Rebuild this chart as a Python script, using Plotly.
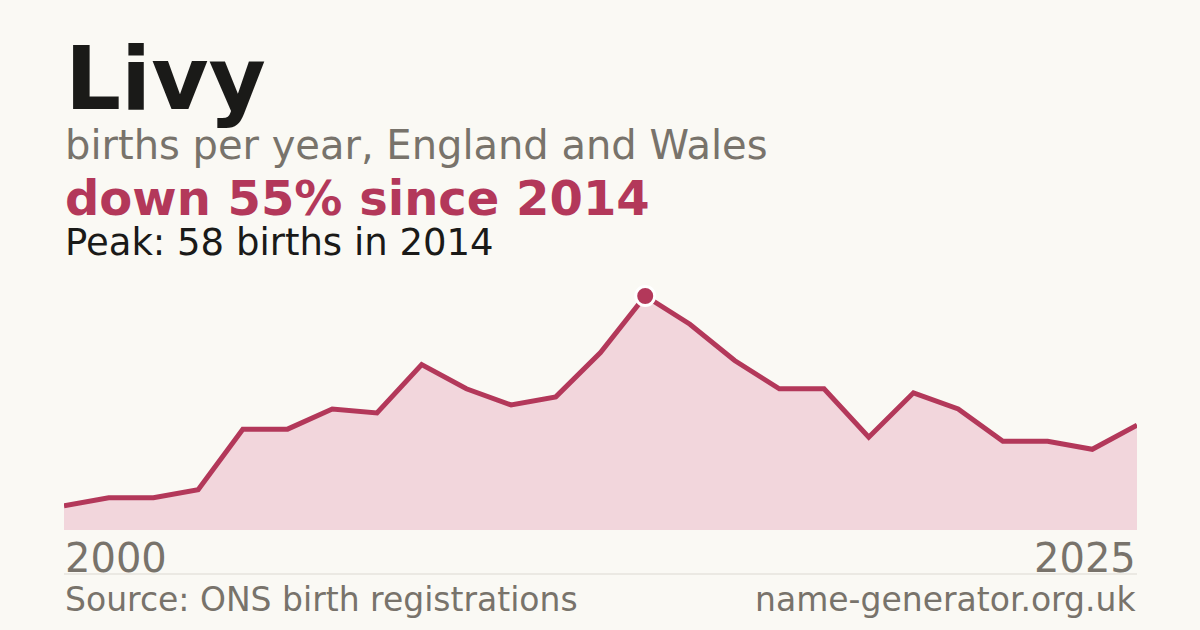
import plotly.graph_objects as go

# births per year for the name "Livy"
years = list(range(2001, 2026))
births = [6, 8, 8, 10, 25, 25, 30, 29, 41, 35, 31, 33, 44, 58,
          51, 42, 35, 35, 23, 34, 30, 22, 22, 20, 26]

peak_year = 2014
peak_value = 58
axis_labels = ["2000", "2025"]

LINE = "#b3385a"
FILL = "#f2d6dc"
BG = "#faf9f4"
GREY = "#78736b"
FONT = "DejaVu Sans"

PLOT_TOP, PLOT_BOTTOM = 296, 530


def py(pix):
    # pixel row -> paper y
    return (PLOT_BOTTOM - pix) / (PLOT_BOTTOM - PLOT_TOP)


fig = go.Figure()
fig.add_trace(go.Scatter(
    x=years, y=births, mode="lines",
    line=dict(color=LINE, width=5),
    fill="tozeroy", fillcolor=FILL,
    cliponaxis=False, hoverinfo="skip",
))
fig.add_trace(go.Scatter(
    x=[peak_year], y=[peak_value], mode="markers",
    marker=dict(color=LINE, size=19, line=dict(color="white", width=3)),
    cliponaxis=False, hoverinfo="skip",
))


def label(text, x, y, size, color, bold=False, anchor="left"):
    fig.add_annotation(
        text=f"<b>{text}</b>" if bold else text,
        xref="paper", yref="paper", x=x, y=py(y),
        xanchor=anchor, yanchor="bottom", showarrow=False,
        borderpad=0,
        font=dict(family=FONT, size=size, color=color),
    )


label("Livy", 0, 131, 88, "#1a1a18", bold=True)
label("births per year, England and Wales", 0, 169, 40, GREY)
label("down 55% since 2014", 0, 227, 48, LINE, bold=True)
label("Peak: 58 births in 2014", 0, 265, 37, "#1a1a18")
label(axis_labels[0], 0, 582, 40, GREY)
label(axis_labels[1], 1, 582, 40, GREY, anchor="right")
label("Source: ONS birth registrations", 0, 620, 33, GREY)
label("name-generator.org.uk", 1, 620, 33, GREY, anchor="right")

fig.add_shape(type="line", xref="paper", yref="paper",
              x0=0, x1=1, y0=py(574), y1=py(574),
              line=dict(color="#dcd9d2", width=1))

fig.update_layout(
    width=1200, height=630,
    margin=dict(l=64, r=63, t=PLOT_TOP, b=630 - PLOT_BOTTOM),
    paper_bgcolor=BG, plot_bgcolor=BG,
    showlegend=False,
    xaxis=dict(range=[years[0], years[-1]], visible=False, fixedrange=True),
    yaxis=dict(range=[0, peak_value], visible=False, fixedrange=True),
)

fig.write_html("out.html", config={"displayModeBar": False},
               post_script="document.body.style.margin = '0';")
